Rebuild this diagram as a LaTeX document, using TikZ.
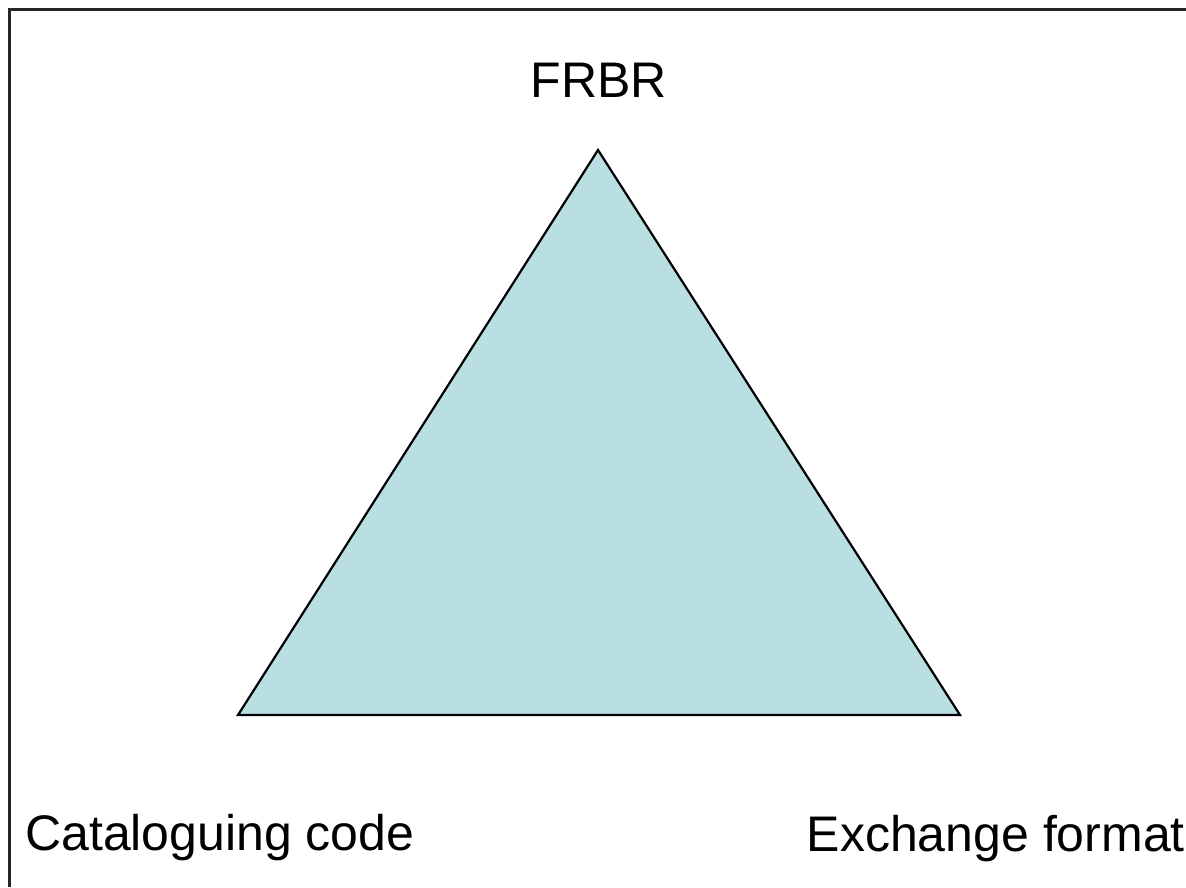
\documentclass[tikz,border=0pt]{standalone}
\usepackage{fontspec}
\setmainfont{Liberation Sans}
\definecolor{trifill}{HTML}{B9DFE2}
\begin{document}
\begin{tikzpicture}[x=1pt,y=1pt,
  lbl/.style={inner sep=0pt, font=\fontsize{50}{60}\selectfont},
  tri/.style={draw=black, line width=2.2pt, fill=trifill, line join=miter}]
\useasboundingbox (0,0) rectangle (1186,887);
\fill[white] (0,0) rectangle (1186,887);
\draw[line width=3pt, black!85] (9,0) -- (9,877) -- (1186,877);
\coordinate (top) at (598,737);
\coordinate (bl) at (238,172);
\coordinate (br) at (960,172);
\draw[tri] (top) -- (bl) -- (br) -- cycle;
\node[lbl, anchor=base] (frbr) at (599,789) {FRBR};
\node[lbl, anchor=base west] (cat) at (25,37) {Cataloguing code};
\node[lbl, anchor=base east] (exf) at (1185,36) {Exchange format};
\end{tikzpicture}
\end{document}
